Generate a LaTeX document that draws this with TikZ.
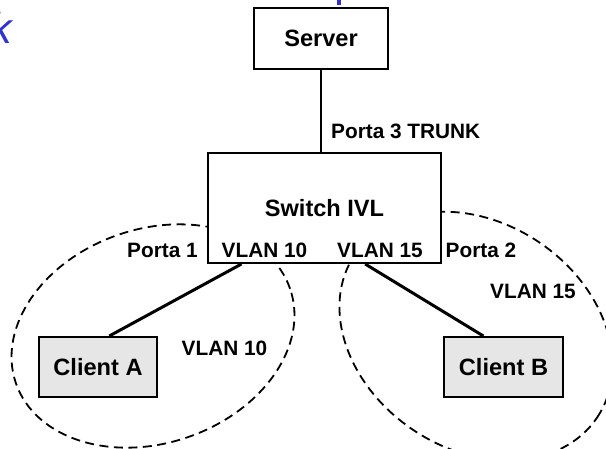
\documentclass[tikz,border=0pt]{standalone}
\usepackage{fontspec}
\setmainfont{Liberation Sans}
\definecolor{titleblue}{RGB}{50,50,205}
\definecolor{boxgray}{RGB}{230,230,230}
\begin{document}
\begin{tikzpicture}[x=1pt,y=-1pt,
  box/.style={draw, line width=2pt, inner sep=0pt, font=\bfseries\fontsize{23.6}{28}\selectfont},
  lbl/.style={font=\bfseries\fontsize{20.8}{25}\selectfont, inner sep=0pt, anchor=base},
  link/.style={line width=3pt},
  vlanarea/.style={dash pattern=on 9pt off 5.5pt, line width=1.8pt}]
\clip (0,0) rectangle (606,448);
% VLAN areas
\draw[vlanarea, rotate around={19:(153,336)}] (153,336) ellipse [x radius=145pt, y radius=107pt];
\draw[vlanarea, rotate around={-34:(476,336)}] (476,336) ellipse [x radius=146pt, y radius=113pt];
% title remnants
\node[anchor=base west, inner sep=0pt, text=titleblue, font=\itshape\fontsize{43}{50}\selectfont] (title) at (-10,43) {k};
\fill[titleblue] (337,0) rectangle (340.5,5);
% boxes
\node[box, fill=white, minimum width=134pt, minimum height=61pt] (server) at (321,38.5) {Server};
\node[box, fill=white, minimum width=233pt, minimum height=110pt] (switch) at (324.5,208) {Switch IVL};
\node[box, fill=boxgray, minimum width=118pt, minimum height=60pt] (clientA) at (98,367) {Client A};
\node[box, fill=boxgray, minimum width=119pt, minimum height=60pt] (clientB) at (503.5,367) {Client B};
% labels
\node[lbl, anchor=base west] (p3) at (331,138) {Porta 3 TRUNK};
\node[lbl] (v10s) at (264.5,257) {VLAN 10};
\node[lbl] (v15s) at (380,257) {VLAN 15};
\node[lbl] (p1) at (162.5,257) {Porta 1};
\node[lbl] (p2) at (481,257) {Porta 2};
\node[lbl] (v10) at (224.5,355) {VLAN 10};
\node[lbl] (v15) at (533,298) {VLAN 15};
% connectors
\draw[line width=2pt] (server.south) -- (server.south |- switch.north);
\draw[link] (clientA.70) -- (switch.214);
\draw[link] (clientB.123) -- (switch.306);
\end{tikzpicture}
\end{document}
